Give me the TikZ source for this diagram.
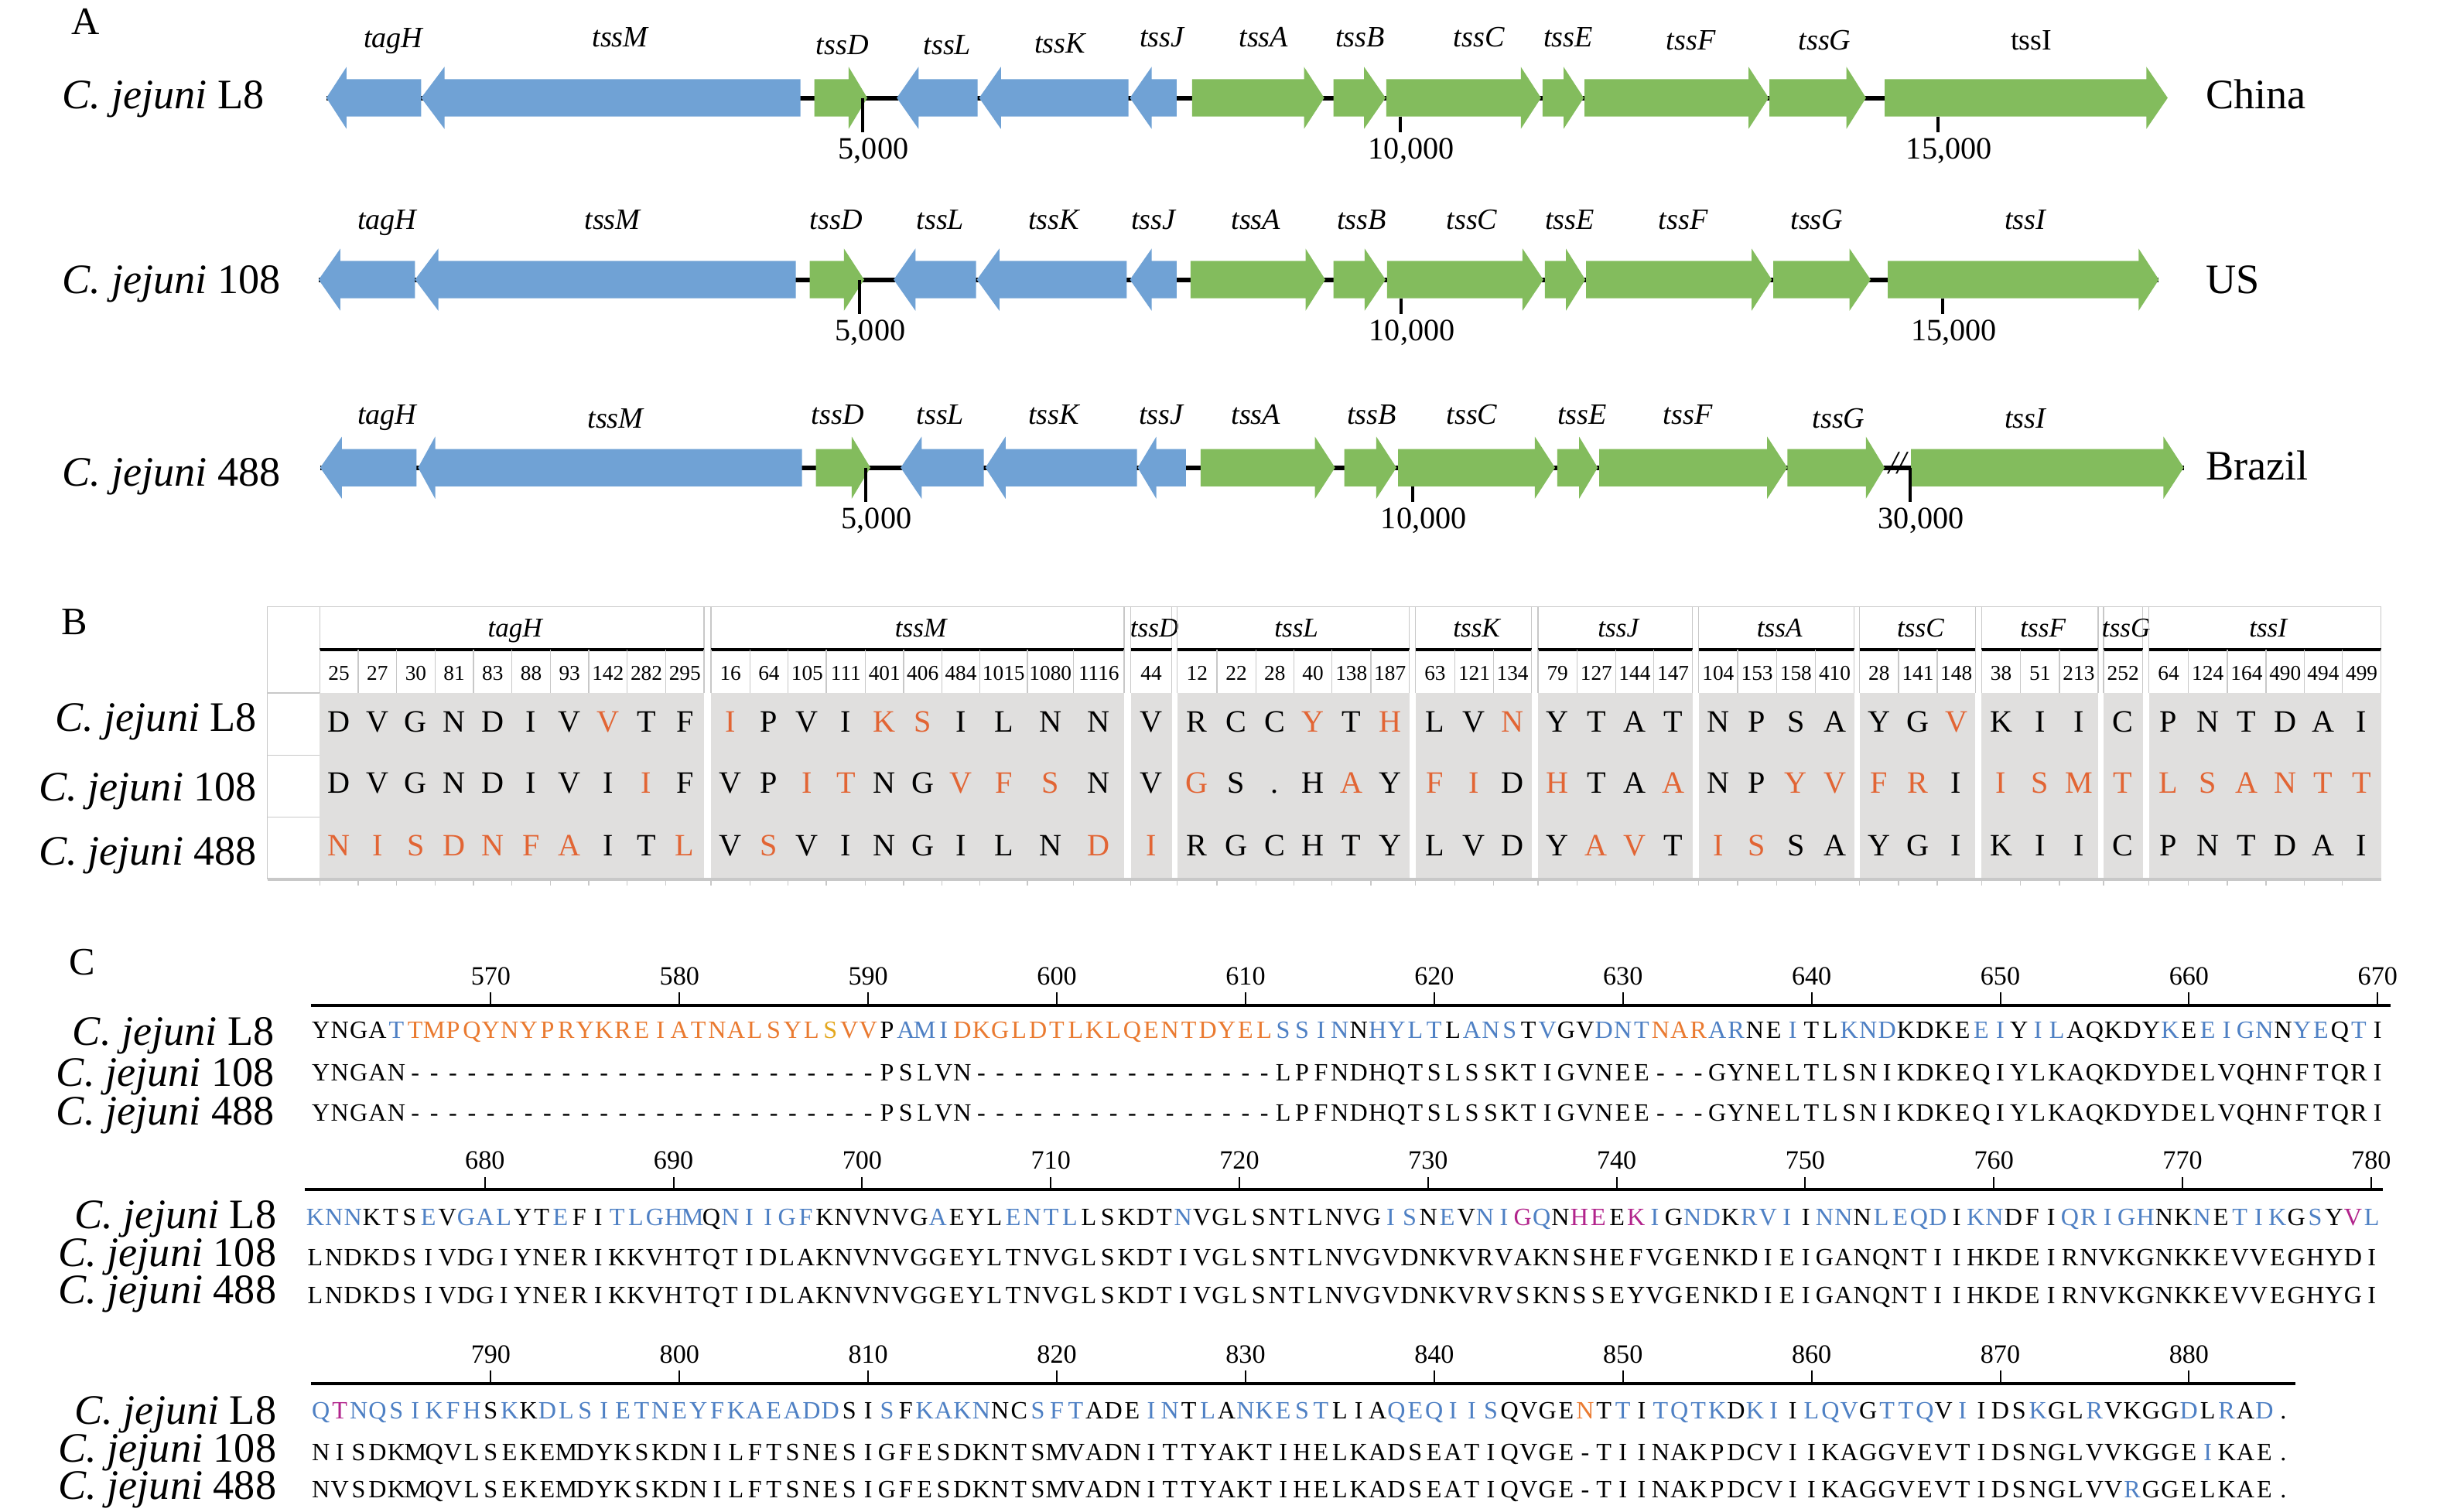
\documentclass[tikz,border=0pt]{standalone}
\usepackage{fontspec}
\setmainfont{Liberation Serif}
\usetikzlibrary{positioning}
\definecolor{geneblue}{RGB}{112,162,213}
\definecolor{genegreen}{RGB}{131,188,93}
\definecolor{cellgray}{RGB}{224,223,222}
\definecolor{rulegray}{RGB}{200,200,200}
\definecolor{mutorange}{RGB}{226,101,52}
\definecolor{seqb}{RGB}{0,0,0}
\definecolor{seqB}{RGB}{78,128,196}
\definecolor{seqO}{RGB}{234,122,48}
\definecolor{seqY}{RGB}{228,168,30}
\definecolor{seqM}{RGB}{178,36,140}

\newcommand{\mk}[1]{\textcolor{mutorange}{#1}}
% gene arrows: left, head base, tip, y  /  tip, head base, right, y
\newcommand{\fwdgene}[4]{\fill[genegreen] (#1,#4-12) -- (#2,#4-12) -- (#2,#4-20) -- (#3,#4) -- (#2,#4+20) -- (#2,#4+12) -- (#1,#4+12) -- cycle;}
\newcommand{\revgene}[4]{\fill[geneblue] (#3,#4-12) -- (#2,#4-12) -- (#2,#4-20) -- (#1,#4) -- (#2,#4+20) -- (#2,#4+12) -- (#3,#4+12) -- cycle;}
% one residue of an alignment row
\newcommand{\seqcell}[6]{%
  \ifx\relax#6\relax\def\seqcol{seqb}\else\def\seqcol{seq#6}\fi
  \node[aa, text=\seqcol] (#1-#4) at ({#2+(#4-1)*12.14},#3) {#5};}
\ExplSyntaxOn
\NewDocumentCommand{\seqrow}{mmmmm}
  {
    \int_step_inline:nn { \str_count_ignore_spaces:n {#4} }
      {
        \use:e
          {
            \exp_not:N \seqcell {#1} {#2} {#3} {##1}
              { \str_item_ignore_spaces:nn {#4} {##1} }
              { \str_item_ignore_spaces:nn {#5} {##1} }
          }
      }
  }
\ExplSyntaxOff

\begin{document}
\begin{tikzpicture}[x=1pt, y=-1pt,
    panel/.style={font=\fontsize{25}{25}\selectfont, inner sep=0pt, text height=16.5pt, text depth=0pt},
    strain/.style={font=\fontsize{27}{27}\selectfont, inner sep=0pt, text height=17.9pt, text depth=0pt},
    genelab/.style={font=\itshape\fontsize{19}{19}\selectfont, inner sep=0pt, text height=12.6pt, text depth=0pt},
    ticklab/.style={font=\fontsize{20}{20}\selectfont, inner sep=0pt, text height=13.5pt, text depth=0pt},
    backbone/.style={line width=3pt},
    tickline/.style={line width=2.2pt},
    bgene/.style={font=\itshape\fontsize{17.5}{17.5}\selectfont, inner sep=0pt, text height=11.6pt, text depth=0pt},
    posnum/.style={font=\fontsize{13.6}{13.6}\selectfont, inner sep=0pt, text height=9.2pt, text depth=0pt},
    mut/.style={font=\fontsize{20}{20}\selectfont, inner sep=0pt, text height=13.2pt, text depth=0pt},
    cellrule/.style={rulegray, line width=0.7pt},
    seqaxis/.style={line width=2pt},
    axtick/.style={line width=1pt},
    axnum/.style={font=\fontsize{17}{17}\selectfont, inner sep=0pt, text height=11.5pt, text depth=0pt},
    aa/.style={font=\fontsize{16}{16}\selectfont, inner sep=0pt, text height=10.6pt, text depth=0pt}
]
\useasboundingbox (0,0) rectangle (1568,973);
\fill[white] (0,0) rectangle (1568,973);

% ---------------- A: gene clusters
\node[panel] (pA) at (55,14) {A};

\draw[backbone] (210,63) -- (1394,63);
\draw[backbone] (205,180) -- (1389,180);
\draw[backbone] (206,301) -- (1405,301);

\foreach \a/\b/\c in {210/223/271, 271/286/515, 577/591/629, 630/644/726, 727/741/757}
  {\revgene{\a}{\b}{\c}{63}}
\foreach \a/\b/\c in {524/546/558, 767/839/852, 858/877.6/891.5, 892/978.5/991.5, 992.5/1006/1019, 1019.5/1125/1138, 1138.5/1188/1200.6, 1212.6/1381/1394.7}
  {\fwdgene{\a}{\b}{\c}{63}}

\foreach \a/\b/\c in {205/219/267, 267/282/512, 575/589/628, 628.5/643/725, 727/741/757}
  {\revgene{\a}{\b}{\c}{180}}
\foreach \a/\b/\c in {521/543/556, 766/840/852.7, 858/878/891.5, 892.5/979.6/993, 994/1007.5/1020, 1020.5/1127/1140, 1141/1190/1203.6, 1214.6/1376/1389}
  {\fwdgene{\a}{\b}{\c}{180}}

\foreach \a/\b/\c in {206/220/268, 269/280/516, 579.5/593/633, 634/647/731.5, 732/744/763}
  {\revgene{\a}{\b}{\c}{301}}
\foreach \a/\b/\c in {525/548/560, 772.5/846/859, 865/885.5/898.5, 899.5/987.5/1000.5, 1002/1016/1028, 1029/1137/1150, 1150/1200.5/1212.6, 1229.5/1392/1405}
  {\fwdgene{\a}{\b}{\c}{301}}
\node[font=\itshape\fontsize{21}{21}\selectfont, inner sep=0pt] (brk) at (1221,298) {//};

% scale ticks
\foreach \x/\ya/\yb/\t [count=\i] in {555/63/85/{5,000}, 901/75/85/{10,000}, 1247/75/85/{15,000},
    553/180/202/{5,000}, 901.5/192/202/{10,000}, 1250/192/202/{15,000},
    557/301/323/{5,000}, 909/313/323/{10,000}, 1229/301/323/{30,000}} {
  \draw[tickline] (\x,\ya) -- (\x,\yb);
  \node[ticklab] (t\i) at (\x+7,\yb+10.5) {\t};
}

% gene names
\foreach \g/\x/\y in {tagH/253/24.5, tssM/399/24, tssD/542/29, tssL/609.5/29, tssK/682/28, tssJ/747.5/24,
    tssA/813/24, tssB/875/24, tssC/951.6/24, tssE/1009/24, tssF/1088/26, tssG/1174/26}
  {\node[genelab] (a1-\g) at (\x,\y) {\g};}
\node[genelab, font=\fontsize{19}{19}\selectfont] (a1-tssI) at (1307,26) {tssI};
\foreach \g/\x in {tagH/249, tssM/394, tssD/538, tssL/605, tssK/678, tssJ/742, tssA/808,
    tssB/876, tssC/947, tssE/1010, tssF/1083, tssG/1169, tssI/1303}
  {\node[genelab] (a2-\g) at (\x,141.5) {\g};}
\foreach \g/\x/\y in {tagH/249/266.5, tssM/396/269, tssD/539/266.5, tssL/605/266.5, tssK/678/266.5, tssJ/747/266.5,
    tssA/808/266.5, tssB/882.5/266.5, tssC/947/266.5, tssE/1018/266.5, tssF/1086/266.5, tssG/1183/269, tssI/1303/269}
  {\node[genelab] (a3-\g) at (\x,\y) {\g};}

% strains and origins
\node[strain, anchor=west] (sA1) at (40,61) {\textit{C. jejuni} L8};
\node[strain, anchor=west] (sA2) at (40,180) {\textit{C. jejuni} 108};
\node[strain, anchor=west] (sA3) at (40,304) {\textit{C. jejuni} 488};
\node[strain, anchor=west] (china) at (1419,61) {China};
\node[strain, anchor=west] (us) at (1419,180) {US};
\node[strain, anchor=west] (brazil) at (1419,300) {Brazil};

% ---------------- B: amino acid differences
\node[panel] (pB) at (48,400) {B};

\draw[cellrule] (172,390.5) -- (1532,390.5);
\draw[cellrule] (172,390.5) -- (172,566);
\draw[cellrule] (205.7,390.5) -- (205.7,446);
\draw[cellrule] (1532,390.5) -- (1532,566);
\foreach \y in {446,486,526}
  {\draw[cellrule] (172,\y) -- (205.7,\y);}

\foreach \g/\xl/\xr in {tagH/205.7/453.0, tssM/457.5/723.3, tssD/727.5/754, tssL/757.5/906.7,
    tssK/910.7/985.4, tssJ/989.5/1089, tssA/1093/1193, tssC/1196.4/1271, tssF/1275/1350,
    tssG/1353.4/1378.6, tssI/1382.6/1532} {
  \fill[cellgray] (\xl,446) rectangle (\xr,566);
  \draw[cellrule] (\xl,390.5) -- (\xl,446) (\xr,390.5) -- (\xr,446);
  \draw[line width=2pt] (\xl,418) -- (\xr,418);
  \node[bgene] (h-\g) at ({(\xl+\xr)/2+2},404) {\g};
}
\draw[rulegray, line width=1.6pt] (172,566) -- (1532,566);

\foreach \xl/\xr/\p/\ra/\rb/\rc [count=\i] in {
    205.7/230.4/25/D/D/\mk{N}, 230.4/255.2/27/V/V/\mk{I}, 255.2/279.9/30/G/G/\mk{S},
    279.9/304.6/81/N/N/\mk{D}, 304.6/329.4/83/D/D/\mk{N}, 329.4/354.1/88/I/I/\mk{F},
    354.1/378.8/93/V/V/\mk{A}, 378.8/403.5/142/\mk{V}/I/I, 403.5/428.3/282/T/\mk{I}/T,
    428.3/453.0/295/F/F/\mk{L},
    457.5/482.5/16/\mk{I}/V/V, 482.5/507/64/P/P/\mk{S}, 507/531.7/105/V/\mk{I}/V,
    531.7/556.8/111/I/\mk{T}/I, 556.8/581.4/401/\mk{K}/N/N, 581.4/606/406/\mk{S}/G/G,
    606/630.5/484/I/\mk{V}/I, 630.5/661/1015/L/\mk{F}/L, 661/690.7/1080/N/\mk{S}/N,
    690.7/723.3/1116/N/N/\mk{D},
    727.5/754/44/V/V/\mk{I},
    757.5/783/12/R/\mk{G}/R, 783/808/22/C/S/G, 808/832.5/28/C/./C, 832.5/857/40/\mk{Y}/H/H,
    857/882/138/T/\mk{A}/T, 882/906.7/187/\mk{H}/Y/Y,
    910.7/936/63/L/\mk{F}/L, 936/961/121/V/\mk{I}/V, 961/985.4/134/\mk{N}/D/D,
    989.5/1014.7/79/Y/\mk{H}/Y, 1014.7/1039.5/127/T/T/\mk{A}, 1039.5/1064/144/A/A/\mk{V},
    1064/1089/147/T/\mk{A}/T,
    1093/1118/104/N/N/\mk{I}, 1118/1143/153/P/P/\mk{S}, 1143/1168/158/S/\mk{Y}/S,
    1168/1193/410/A/\mk{V}/A,
    1196.4/1221.6/28/Y/\mk{F}/Y, 1221.6/1246.4/141/G/\mk{R}/G, 1246.4/1271/148/\mk{V}/I/I,
    1275/1300/38/K/\mk{I}/K, 1300/1325/51/I/\mk{S}/I, 1325/1350/213/I/\mk{M}/I,
    1353.4/1378.6/252/C/\mk{T}/C,
    1382.6/1408/64/P/\mk{L}/P, 1408/1433/124/N/\mk{S}/N, 1433/1458/164/T/\mk{A}/T,
    1458/1482.6/490/D/\mk{N}/D, 1482.6/1507/494/A/\mk{T}/A, 1507/1532/499/I/\mk{T}/I} {
  \draw[cellrule] (\xl,418) -- (\xl,446) (\xr,418) -- (\xr,446);
  \draw[cellrule] (\xl,566) -- (\xl,570);
  \node[posnum] (p\i) at ({(\xl+\xr)/2},433.4) {\p};
  \node[mut] (m\i-1) at ({(\xl+\xr)/2},464.6) {\ra};
  \node[mut] (m\i-2) at ({(\xl+\xr)/2},504) {\rb};
  \node[mut] (m\i-3) at ({(\xl+\xr)/2},544.4) {\rc};
}

\node[strain, anchor=east] (sB1) at (165.5,461.6) {\textit{C. jejuni} L8};
\node[strain, anchor=east] (sB2) at (165.5,506.6) {\textit{C. jejuni} 108};
\node[strain, anchor=east] (sB3) at (165.5,548) {\textit{C. jejuni} 488};

% ---------------- C: alignment
\node[panel] (pC) at (53,619) {C};

\draw[seqaxis] (200,647) -- (1538,647);
\foreach \n [count=\i from 0] in {570,580,...,670} {
  \draw[axtick] ({315.8+\i*121.4},647) -- ++(0,-8.4);
  \node[axnum] (n\n) at ({315.8+\i*121.4},628) {\n};
}
\draw[seqaxis] (196,765.8) -- (1533,765.8);
\foreach \n [count=\i from 0] in {680,690,...,780} {
  \draw[axtick] ({312+\i*121.36},765.8) -- ++(0,-8.4);
  \node[axnum] (n\n) at ({312+\i*121.36},746.8) {\n};
}
\draw[seqaxis] (200,890.7) -- (1477,890.7);
\foreach \n [count=\i from 0] in {790,800,...,880} {
  \draw[axtick] ({315.8+\i*121.4},890.7) -- ++(0,-8.4);
  \node[axnum] (n\n) at ({315.8+\i*121.4},871.7) {\n};
}

\node[strain, anchor=east] (sC1) at (176.7,663.9) {\textit{C. jejuni} L8};
\node[strain, anchor=east] (sC2) at (176.7,690) {\textit{C. jejuni} 108};
\node[strain, anchor=east] (sC3) at (176.7,715) {\textit{C. jejuni} 488};
\node[strain, anchor=east] (sC4) at (178,781.6) {\textit{C. jejuni} L8};
\node[strain, anchor=east] (sC5) at (178,806) {\textit{C. jejuni} 108};
\node[strain, anchor=east] (sC6) at (178,830) {\textit{C. jejuni} 488};
\node[strain, anchor=east] (sC7) at (178,907.8) {\textit{C. jejuni} L8};
\node[strain, anchor=east] (sC8) at (178,932) {\textit{C. jejuni} 108};
\node[strain, anchor=east] (sC9) at (178,956) {\textit{C. jejuni} 488};

% residues 561-670
\seqrow{a1}{206.5}{663}
  {YNGATTMPQY NYPRYKREIA TNALSYLSVV PAMIDKGLDT LKLQENTDYE LSSINNHYLT LANSTVGVDN TNARARNEIT LKNDKDKEEI YILAQKDYKE EIGNNYEQTI}
  {bbbbBOOOOO OOOOOOOOOO OOOOOOOYOO bBBBOOOOOO OOOOOOOOOO OBBBBbBBBB bBBBbBbbBB BOOOBBbbBb bBBBbbbbBB bBBbbbbbBb BBBBbBBbBb}
\seqrow{b1}{206.5}{690.5}
  {YNGAN----- ---------- ---------- PSLVN----- ---------- -LPFNDHQTS LSSKTIGVNE E---GYNELT LSNIKDKEQI YLKAQKDYDE LVQHNFTQRI}{}
\seqrow{c1}{206.5}{716}
  {YNGAN----- ---------- ---------- PSLVN----- ---------- -LPFNDHQTS LSSKTIGVNE E---GYNELT LSNIKDKEQI YLKAQKDYDE LVQHNFTQRI}{}

% residues 671-780
\seqrow{a2}{202.8}{783.4}
  {KNNKTSEVGA LYTEFITLGH MQNIIGFKNV NVGAEYLENT LLSKDTNVGL SNTLNVGISN EVNIGQNHEE KIGNDKRVII NNNLEQDIKN DFIQRIGHNK NETIKGSYVL}
  {BBBbbbBbBB BbbBbbBBBB BbBBBBBbbb bbbBbbbBBB BbbbbbBbbb bbbbbbbBBb BbBBMBbMMb MBbBBbBBBb BBbBBBBbBB bbbBBBBBbb BbBBBbBbMB}
\seqrow{b2}{202.8}{809.4}
  {LNDKDSIVDG IYNERIKKVH TQTIDLAKNV NVGGEYLTNV GLSKDTIVGL SNTLNVGVDN KVRVAKNSHE FVGENKDIEI GANQNTIIHK DEIRNVKGNK KEVVEGHYDI}{}
\seqrow{c2}{202.8}{833.6}
  {LNDKDSIVDG IYNERIKKVH TQTIDLAKNV NVGGEYLTNV GLSKDTIVGL SNTLNVGVDN KVRVSKNSSE YVGENKDIEI GANQNTIIHK DEIRNVKGNK KEVVEGHYGI}{}

% residues 781-884
\seqrow{a3}{206.5}{907.8}
  {QTNQSIKFHS KKDLSIETNE YFKAEADDSI SFKAKNNCSF TADEINTLAN KESTLIAQEQ IISQVGENTT ITQTKDKIIL QVGTTQVIID SKGLRVKGGD LRAD.}
  {BMBBBBBBBb BbBBBBBBBB BBBBBBBBbb BbBBBBbbBB BbbbBBbBbB BBBBbbbBBB BBBbbbbObB bBBBBbBBbB BBbBBBbBbb bBbbBbbbbB bBbBb}
\seqrow{b3}{206.5}{934.6}
  {NISDKMQVLS EKEMDYKSKD NILFTSNESI GFESDKNTSM VADNITTYAK TIHELKADSE ATIQVGE-TI INAKPDCVII KAGGVEVTID SNGLVVKGGE IKAE.}
  {bbbbbbbbbb bbbbbbbbbb bbbbbbbbbb bbbbbbbbbb bbbbbbbbbb bbbbbbbbbb bbbbbbbbbb bbbbbbbbbb bbbbbbbbbb bbbbbbbbbb B}
\seqrow{c3}{206.5}{958.8}
  {NVSDKMQVLS EKEMDYKSKD NILFTSNESI GFESDKNTSM VADNITTYAK TIHELKADSE ATIQVGE-TI INAKPDCVII KAGGVEVTID SNGLVVRGGE LKAE.}
  {bbbbbbbbbb bbbbbbbbbb bbbbbbbbbb bbbbbbbbbb bbbbbbbbbb bbbbbbbbbb bbbbbbbbbb bbbbbbbbbb bbbbbbbbbb bbbbbbB}

\end{tikzpicture}
\end{document}
